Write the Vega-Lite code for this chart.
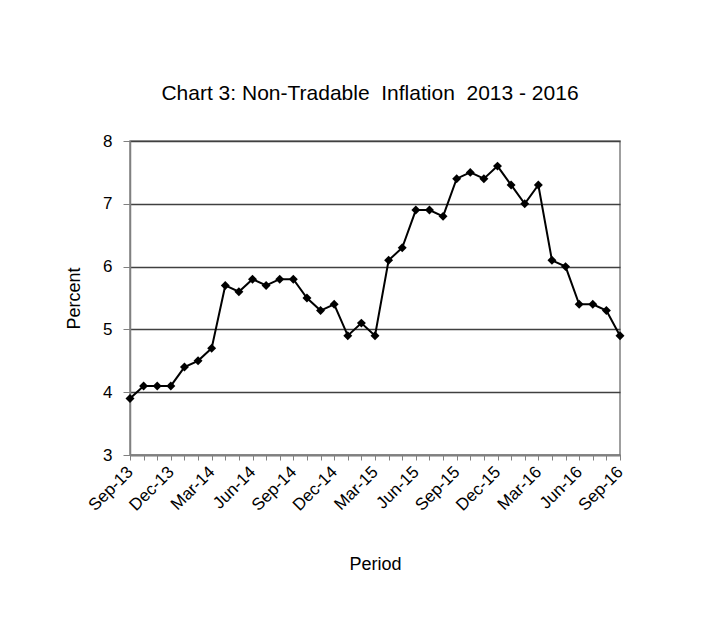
{
  "$schema": "https://vega.github.io/schema/vega-lite/v6.json",
  "width": 490,
  "height": 314,
  "autosize": {"type": "none"},
  "padding": {"left": 130, "top": 141, "right": 81, "bottom": 179},
  "background": "white",
  "title": {"text": "Chart 3: Non-Tradable\u00a0 Inflation\u00a0 2013 - 2016", "font": "Liberation Sans", "fontSize": 21, "fontWeight": "normal", "color": "black", "offset": 28, "anchor": "middle", "dx": -5},
  "config": {
    "view": {"stroke": "#808080", "strokeWidth": 1.5},
    "axis": {"labelFont": "Liberation Sans", "titleFont": "Liberation Sans", "labelColor": "black", "titleColor": "black", "labelFontSize": 17, "titleFontSize": 18, "titleFontWeight": "normal", "domainColor": "#808080", "tickColor": "#808080", "domainWidth": 1.5}
  },
  "data": {"values": [
    {"period": "Sep-13", "value": 3.9},
    {"period": "Oct-13", "value": 4.1},
    {"period": "Nov-13", "value": 4.1},
    {"period": "Dec-13", "value": 4.1},
    {"period": "Jan-14", "value": 4.4},
    {"period": "Feb-14", "value": 4.5},
    {"period": "Mar-14", "value": 4.7},
    {"period": "Apr-14", "value": 5.7},
    {"period": "May-14", "value": 5.6},
    {"period": "Jun-14", "value": 5.8},
    {"period": "Jul-14", "value": 5.7},
    {"period": "Aug-14", "value": 5.8},
    {"period": "Sep-14", "value": 5.8},
    {"period": "Oct-14", "value": 5.5},
    {"period": "Nov-14", "value": 5.3},
    {"period": "Dec-14", "value": 5.4},
    {"period": "Jan-15", "value": 4.9},
    {"period": "Feb-15", "value": 5.1},
    {"period": "Mar-15", "value": 4.9},
    {"period": "Apr-15", "value": 6.1},
    {"period": "May-15", "value": 6.3},
    {"period": "Jun-15", "value": 6.9},
    {"period": "Jul-15", "value": 6.9},
    {"period": "Aug-15", "value": 6.8},
    {"period": "Sep-15", "value": 7.4},
    {"period": "Oct-15", "value": 7.5},
    {"period": "Nov-15", "value": 7.4},
    {"period": "Dec-15", "value": 7.6},
    {"period": "Jan-16", "value": 7.3},
    {"period": "Feb-16", "value": 7.0},
    {"period": "Mar-16", "value": 7.3},
    {"period": "Apr-16", "value": 6.1},
    {"period": "May-16", "value": 6.0},
    {"period": "Jun-16", "value": 5.4},
    {"period": "Jul-16", "value": 5.4},
    {"period": "Aug-16", "value": 5.3},
    {"period": "Sep-16", "value": 4.9}
  ]},
  "encoding": {
    "x": {"field": "period", "type": "ordinal", "sort": null, "scale": {"type": "point", "padding": 0},
      "axis": {"title": "Period", "labelAngle": -45, "labelAlign": "right", "labelBaseline": "middle", "labelPadding": 9, "tickSize": 5, "titlePadding": 42,
        "labelExpr": "indexof(['Sep-13','Dec-13','Mar-14','Jun-14','Sep-14','Dec-14','Mar-15','Jun-15','Sep-15','Dec-15','Mar-16','Jun-16','Sep-16'], datum.value) >= 0 ? datum.label : ''"}},
    "y": {"field": "value", "type": "quantitative", "scale": {"domain": [3, 8], "nice": false},
      "axis": {"title": "Percent", "values": [3, 4, 5, 6, 7, 8], "tickSize": 7, "labelPadding": 11, "titlePadding": 19, "grid": true, "gridColor": "#404040", "gridWidth": 1.5}}
  },
  "layer": [
    {"mark": {"type": "line", "color": "black", "strokeWidth": 2}},
    {"mark": {"type": "point", "shape": "diamond", "filled": true, "color": "black", "opacity": 1, "size": 80}}
  ]
}
